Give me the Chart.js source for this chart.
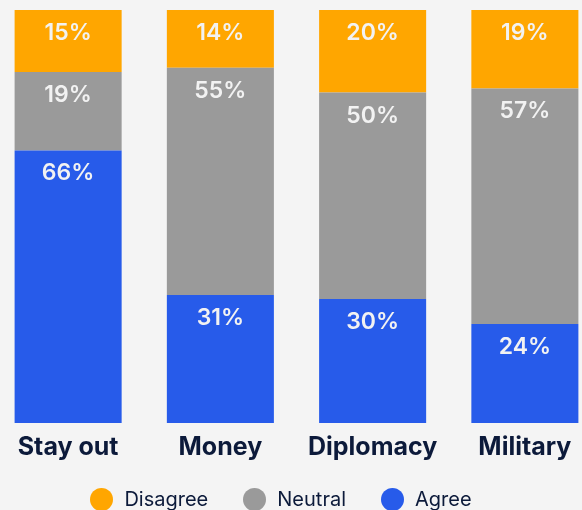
<!DOCTYPE html>
<html>
<head>
<meta charset="utf-8">
<script src="https://cdn.jsdelivr.net/npm/chart.js@4"></script>
<style>
  html, body { margin: 0; padding: 0; background: #f4f4f4; overflow: hidden; }
  body { width: 582px; height: 510px; position: relative; }
  #wrap { position: absolute; left: -8px; top: 0; width: 609px; height: 510px; }
  #legend {
    position: absolute; left: 0; width: 562px; top: 487px;
    display: flex; justify-content: center; gap: 35px;
    font-family: Inter, "Open Sans", sans-serif; font-size: 20px; color: #0c1a3a;
  }
  #legend .item { display: flex; align-items: center; gap: 11px; }
  #legend .dot { width: 23px; height: 23px; border-radius: 50%; }
</style>
</head>
<body>
<div id="wrap"><canvas id="chart"></canvas></div>
<div id="legend"></div>
<script>
// survey answers per option, in percent
const categories = ['Stay out', 'Money', 'Diplomacy', 'Military'];
const agree = [66, 31, 30, 24];
const neutral = [19, 55, 50, 57];
const disagree = [15, 14, 20, 19];

const seriesNames = ['Agree', 'Neutral', 'Disagree'];
const seriesColors = ['#275bea', '#9a9a9a', '#ffa600'];

const navy = '#0c1a3a';

// labels drawn near the top of each segment
const segmentLabels = {
    id: 'segmentLabels',
    afterDatasetsDraw(chart) {
        const ctx = chart.ctx;
        ctx.save();
        ctx.font = '600 23px Inter, "Open Sans", sans-serif';
        ctx.fillStyle = '#f2f2f2';
        ctx.textAlign = 'center';
        ctx.textBaseline = 'middle';
        chart.data.datasets.forEach((ds, i) => {
            const meta = chart.getDatasetMeta(i);
            meta.data.forEach((bar, j) => {
                ctx.fillText(ds.data[j] + '%', bar.x, bar.y + 23);
            });
        });
        ctx.restore();
    }
};

const datasets = [agree, neutral, disagree].map((values, i) => ({
    label: seriesNames[i],
    data: values,
    backgroundColor: seriesColors[i],
    borderWidth: 0,
    barPercentage: 0.703,
    categoryPercentage: 1
}));

new Chart(document.getElementById('chart'), {
    type: 'bar',
    data: { labels: categories, datasets },
    options: {
        responsive: true,
        maintainAspectRatio: false,
        animation: false,
        layout: { padding: { top: 10, bottom: 47, left: 0, right: 0 } },
        plugins: {
            legend: { display: false },
            tooltip: { enabled: false }
        },
        scales: {
            x: {
                stacked: true,
                grid: { display: false },
                border: { display: false },
                ticks: {
                    color: navy,
                    padding: 1,
                    font: { family: 'Inter, "Open Sans", sans-serif', size: 25, weight: '700' }
                }
            },
            y: {
                stacked: true,
                display: false,
                min: 0,
                max: 100
            }
        }
    },
    plugins: [segmentLabels]
});

// legend in the same order as the stack, top to bottom
const legend = document.getElementById('legend');
[2, 1, 0].forEach(i => {
    const item = document.createElement('div');
    item.className = 'item';
    item.innerHTML = `<span class="dot" style="background:${seriesColors[i]}"></span><span>${seriesNames[i]}</span>`;
    legend.appendChild(item);
});
</script>
</body>
</html>
